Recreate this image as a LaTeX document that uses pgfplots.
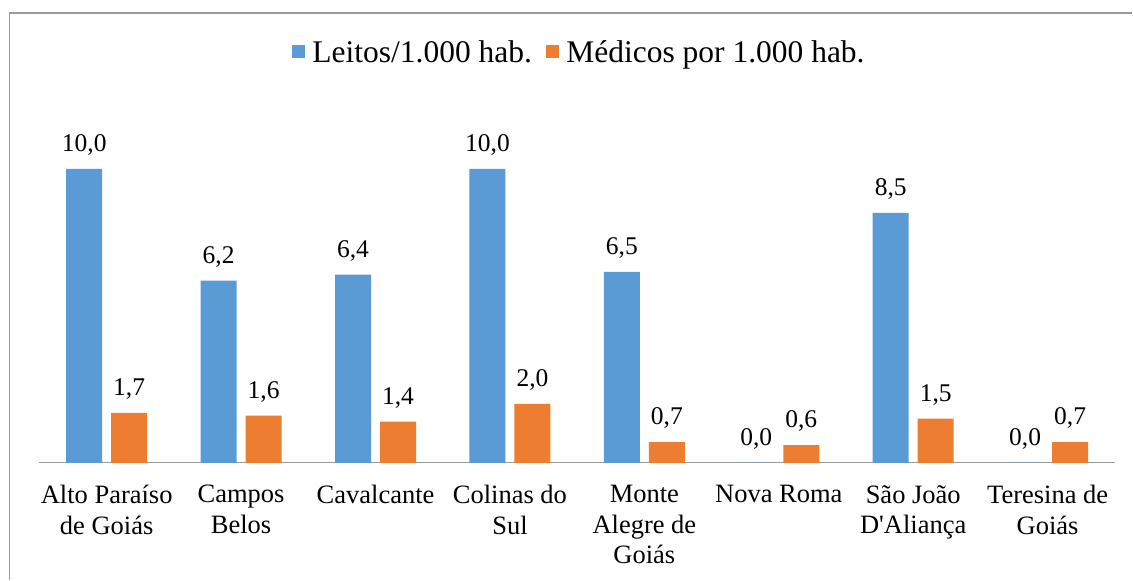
\documentclass[border=0pt]{standalone}
\usepackage{fontspec}
\setmainfont{Liberation Serif}
\usepackage{pgfplots}
\pgfplotsset{compat=1.18}
\definecolor{cblue}{HTML}{5B9BD5}
\definecolor{corange}{HTML}{ED7D31}
\definecolor{frame}{HTML}{9A9A9A}
\begin{document}
\begin{tikzpicture}[x=1pt,y=1pt]
\path[fill=white] (0,0) rectangle (1133,580);
\draw[frame,line width=1.2pt] (9.5,0) -- (9.5,567) -- (1133,567);
\begin{axis}[
  at={(39.5pt,117pt)}, anchor=south west,
  scale only axis, width=1076pt, height=352.8pt,
  xmin=-0.5, xmax=7.5, ymin=0, ymax=12,
  axis y line=none, axis x line*=bottom,
  x axis line style={frame, line width=1pt, -},
  ybar, bar width=36pt,
  xtick=data, major tick length=0pt,
  xticklabels={{Alto Paraíso\\de Goiás},{Campos\\Belos},{Cavalcante},{Colinas do\\Sul},{Monte\\Alegre de\\Goiás},{Nova Roma},{São João\\D\textquotesingle Aliança},{Teresina de\\Goiás}},
  xticklabel style={align=center, font=\fontsize{26.5}{30.5}\selectfont, yshift=-19pt},
  nodes near coords,
  nodes near coords style={font=\fontsize{25.5}{28}\selectfont, yshift=10pt,
    /pgf/number format/fixed, /pgf/number format/fixed zerofill,
    /pgf/number format/precision=1, /pgf/number format/use comma,
    /pgf/number format/assume math mode=true},
  legend columns=2,
  legend style={at={(0.502,1.165)}, anchor=center, draw=none, fill=none, font=\fontsize{31.5}{35}\selectfont,
    /tikz/every odd column/.append style={column sep=5pt},
    /tikz/every even column/.append style={column sep=12pt}},
  legend image code/.code={\fill[#1,draw=none] (0pt,-6.5pt) rectangle (13.5pt,7pt);},
  clip=false,
]
\addplot[fill=cblue, draw=none, bar shift=-22.5pt] coordinates {(0,10.0) (1,6.2) (2,6.4) (3,10.0) (4,6.5) (5,0.0) (6,8.5) (7,0.0)};
\addplot[fill=corange, draw=none, bar shift=22.5pt] coordinates {(0,1.7) (1,1.6) (2,1.4) (3,2.0) (4,0.7) (5,0.6) (6,1.5) (7,0.7)};
\legend{Leitos/1.000 hab.,Médicos por 1.000 hab.}
\end{axis}
\end{tikzpicture}
\end{document}
